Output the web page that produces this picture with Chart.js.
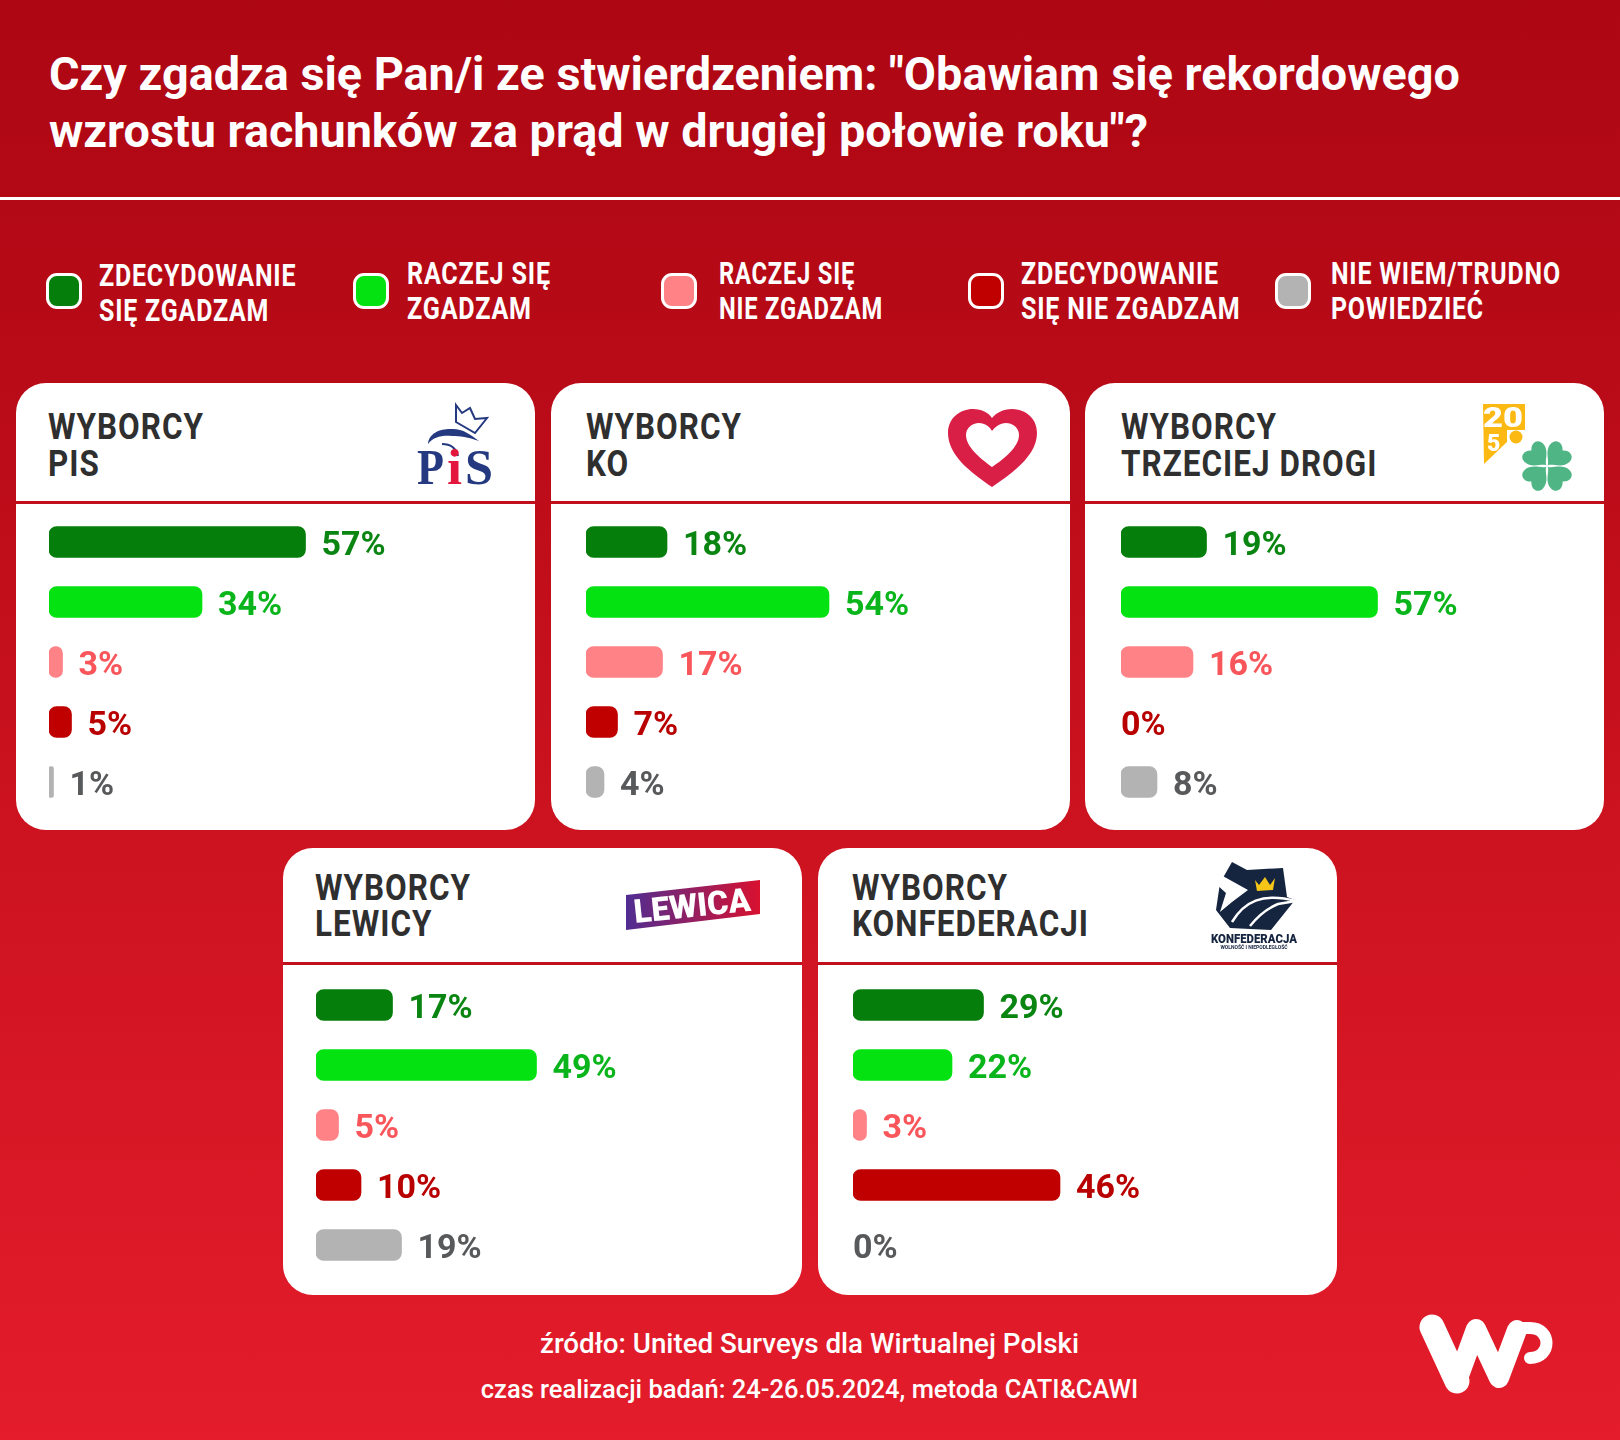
<!DOCTYPE html>
<html lang="pl">
<head>
<meta charset="utf-8">
<title>Rachunki za prąd</title>
<script src="https://cdn.jsdelivr.net/npm/chart.js@4"></script>
<style>
  html, body { margin: 0; padding: 0; }
  body { width: 1620px; height: 1440px; position: relative; overflow: hidden;
    font-family: Roboto, sans-serif; color: #fff;
    background: linear-gradient(180deg, #ad0713 0%, #b80a17 25%, #cb121f 55%, #e41c2b 100%); }
  h1 { position: absolute; left: 49px; top: 46px; margin: 0; font-size: 46.75px; line-height: 57px; font-weight: 700; white-space: nowrap; }
  .rule { position: absolute; left: 0; top: 197px; width: 1620px; height: 2.5px; background: #fff; }
  .swatch { position: absolute; width: 30px; height: 30px; border: 3px solid #fff; border-radius: 11px; }
  .legtext { position: absolute; font-size: 31px; line-height: 35px; font-weight: 700; letter-spacing: 1px; transform-origin: left top; white-space: nowrap; }
  .card { position: absolute; width: 519px; height: 447px; background: #fff; border-radius: 30px; }
  .card .sep { position: absolute; left: 0; right: 0; height: 3px; background: #c0101c; }
  .card .name { position: absolute; color: #2f2f2f; font-size: 37px; font-weight: 700;
    transform: scaleX(.85); transform-origin: left top; white-space: nowrap; letter-spacing: 1.2px; }
  canvas { position: absolute; }
  .foot { position: absolute; left: 0; width: 1619px; text-align: center; font-weight: 500; line-height: 32px; }
  svg { position: absolute; left: 0; top: 0; }
</style>
</head>
<body>
<h1>Czy zgadza się Pan/i ze stwierdzeniem: "Obawiam się rekordowego<br>wzrostu rachunków za prąd w drugiej połowie roku"?</h1>
<div class="rule"></div>
<div id="legend"></div>
<div id="cards"></div>
<div class="foot" style="top:1328px;font-size:27.75px">źródło: United Surveys dla Wirtualnej Polski</div>
<div class="foot" style="top:1373px;font-size:25.5px">czas realizacji badań: 24-26.05.2024, metoda CATI&amp;CAWI</div>

<svg width="1620" height="1440" viewBox="0 0 1620 1440">
  <!-- PiS -->
  <path d="M456 405 L462 413 L470 408 L475 419 L487 418 L475 433 L456 422 Z" fill="none" stroke="#24397f" stroke-width="2"/>
  <path d="M428 444 C429 433 440 429 450 429 C462 428 470 434 479 441 C468 437 460 436 452 436 C442 435 433 437 428 444 Z" fill="#24397f"/>
  <path d="M442 444 C450 444 456 448 458 456" fill="none" stroke="#24397f" stroke-width="2"/>
  <text x="417" y="484" font-family="Liberation Serif" font-weight="700" font-size="50" fill="#24397f" textLength="27" lengthAdjust="spacingAndGlyphs">P</text>
  <text x="447" y="484" font-family="Liberation Serif" font-weight="700" font-size="50" fill="#e3173e" textLength="15" lengthAdjust="spacingAndGlyphs">i</text>
  <text x="465" y="484" font-family="Liberation Serif" font-weight="700" font-size="50" fill="#24397f" textLength="28" lengthAdjust="spacingAndGlyphs">S</text>
  <!-- KO -->
  <path d="M992 487 C970 472 948 455 948 433 C948 418 960 409 973 409 C982 409 989 413 992 418 C996 413 1003 409 1012 409 C1025 409 1037 418 1037 433 C1037 455 1014 472 992 487 Z" fill="#da1f47"/>
  <path d="M992 467 C981 459 966 447 966 435 C966 428 972 423 979 423 C985 423 990 427 992 431 C995 427 1000 423 1006 423 C1013 423 1019 428 1019 435 C1019 447 1004 459 992 467 Z" fill="#fff"/>
  <!-- Trzecia Droga -->
  <path d="M1483 404 H1525 V430 H1507 V442 L1484 464 Z" fill="#fdb913"/>
  <text x="1483" y="427" font-family="Roboto" font-weight="900" font-size="28" fill="#fff" textLength="40" lengthAdjust="spacingAndGlyphs">20</text>
  <text x="1487" y="451" font-family="Roboto" font-weight="900" font-size="23" fill="#fff">5</text>
  <circle cx="1516" cy="437" r="6.5" fill="#fdb913"/>
  <g fill="#4fb585" transform="translate(1547 466)">
    <path id="leaf" d="M0 -1 C-2 -6 -13 -9 -13 -19 C-13 -26 -5 -28 0 -22 C5 -28 13 -26 13 -19 C13 -9 2 -6 0 -1 Z" transform="rotate(45)"/>
    <use href="#leaf" transform="rotate(90)"/>
    <use href="#leaf" transform="rotate(180)"/>
    <use href="#leaf" transform="rotate(270)"/>
  </g>
  <!-- Lewica -->
  <defs><linearGradient id="lew" x1="0" x2="1"><stop offset="0" stop-color="#4f2d92"/><stop offset="1" stop-color="#d9112f"/></linearGradient></defs>
  <path d="M626 895 L760 880 V914 L626 930 Z" fill="url(#lew)"/>
  <text x="635" y="923" transform="rotate(-6 635 923)" font-family="Roboto" font-weight="900" font-size="33" fill="#fff" textLength="117" lengthAdjust="spacingAndGlyphs">LEWICA</text>
  <!-- Konfederacja -->
  <path d="M1232 862 L1247 870 L1283 868 L1287 897 L1295 900 L1271 930 L1230 928 L1216 910 L1220 883 Z" fill="#15243f"/>
  <path d="M1212 870 L1248 890 L1232 902 L1220 912 L1226 893 L1216 884 Z" fill="#fff"/>
  <path d="M1255 880 L1259 885 L1265 877 L1270 885 L1275 878 L1273 890 L1257 891 Z" fill="#f5c518"/>
  <path d="M1232 922 C1244 902 1262 892 1296 901 L1278 904 C1268 908 1258 916 1250 926" fill="none" stroke="#fff" stroke-width="2.5"/>
  <text x="1254" y="943" text-anchor="middle" font-family="Roboto" font-weight="900" font-size="12" fill="#15243f" textLength="86" lengthAdjust="spacingAndGlyphs">KONFEDERACJA</text>
  <text x="1254" y="949" text-anchor="middle" font-family="Roboto" font-weight="700" font-size="5" fill="#15243f">WOLNOŚĆ I NIEPODLEGŁOŚĆ</text>
  <!-- WP -->
  <g fill="none" stroke="#fff" stroke-linecap="round" stroke-linejoin="round">
    <path d="M1432 1327 L1457 1381" stroke-width="25"/>
    <path d="M1457 1381 L1476 1329 L1499 1378 L1517 1330" stroke-width="20"/>
    <path d="M1517 1328 H1530 C1552 1328 1552 1358 1530 1358" stroke-width="12"/>
  </g>
</svg>

<script>
const categories = ['Zdecydowanie się zgadzam', 'Raczej się zgadzam', 'Raczej się nie zgadzam', 'Zdecydowanie się nie zgadzam', 'Nie wiem/trudno powiedzieć'];
const legendLines = [['ZDECYDOWANIE', 'SIĘ ZGADZAM'], ['RACZEJ SIĘ', 'ZGADZAM'], ['RACZEJ SIĘ', 'NIE ZGADZAM'], ['ZDECYDOWANIE', 'SIĘ NIE ZGADZAM'], ['NIE WIEM/TRUDNO', 'POWIEDZIEĆ']];
const barColors = ['#067e0b', '#05e211', '#ff8286', '#c00000', '#b3b3b3'];
const labelColors = ['#0b8512', '#0ab51b', '#f9565b', '#b90000', '#58595b'];

const pisValues = [57, 34, 3, 5, 1];
const koValues = [18, 54, 17, 7, 4];
const tdValues = [19, 57, 16, 0, 8];
const lewicaValues = [17, 49, 5, 10, 19];
const konfValues = [29, 22, 3, 46, 0];

// card layout: box position, bar start, where the name / divider / bars sit in the box
const rowOne = { y: 383, nameTop: 25, nameLine: 37, sepTop: 118, barsTop: 512 };
const rowTwo = { y: 848, nameTop: 22, nameLine: 36, sepTop: 114, barsTop: 975 };
const cards = [
  { ...rowOne, x: 16, barX: 49, nameX: 48, values: pisValues, name: ['WYBORCY', 'PIS'] },
  { ...rowOne, x: 550.5, barX: 586, nameX: 586, values: koValues, name: ['WYBORCY', 'KO'] },
  { ...rowOne, x: 1085, barX: 1121, nameX: 1121, values: tdValues, name: ['WYBORCY', 'TRZECIEJ DROGI'] },
  { ...rowTwo, x: 283, barX: 316, nameX: 315, values: lewicaValues, name: ['WYBORCY', 'LEWICY'] },
  { ...rowTwo, x: 818, barX: 853, nameX: 852, values: konfValues, name: ['WYBORCY', 'KONFEDERACJI'] }
];

const legendX = [46, 353, 661, 968, 1275];
const legendTextX = [99, 407, 719, 1021, 1331];
const legendTextY = [258, 256, 256, 256, 256];
const legendScale = [.805, .81, .766, .808, .803];
const legend = document.getElementById('legend');
legendLines.forEach((lines, i) => {
  const sw = document.createElement('div');
  sw.className = 'swatch';
  sw.style.cssText = `left:${legendX[i]}px;top:273px;background:${barColors[i]}`;
  legend.appendChild(sw);
  const t = document.createElement('div');
  t.className = 'legtext';
  t.style.left = legendTextX[i] + 'px';
  t.style.top = legendTextY[i] + 'px';
  t.style.transform = `scaleX(${legendScale[i]})`;
  t.innerHTML = lines.join('<br>');
  legend.appendChild(t);
});

// value labels next to the bars
const valueLabels = {
  id: 'valueLabels',
  afterDatasetsDraw(chart) {
    const c = chart.ctx;
    const meta = chart.getDatasetMeta(0);
    c.save();
    c.font = '700 34px Roboto';
    c.textBaseline = 'middle';
    meta.data.forEach((bar, i) => {
      const v = chart.data.datasets[0].data[i];
      c.fillStyle = labelColors[i];
      c.fillText(v + '%', bar.x + (v === 0 ? 0 : 16), bar.y + 4);
    });
    c.restore();
  }
};

const holder = document.getElementById('cards');
cards.forEach(card => {
  const el = document.createElement('div');
  el.className = 'card';
  el.style.left = card.x + 'px';
  el.style.top = card.y + 'px';
  el.innerHTML = `<div class="name" style="left:${card.nameX - card.x}px;top:${card.nameTop}px;line-height:${card.nameLine}px">${card.name.join('<br>')}</div>` +
    `<div class="sep" style="top:${card.sepTop}px"></div>`;
  holder.appendChild(el);

  const cv = document.createElement('canvas');
  cv.width = 450;
  cv.height = 300;
  cv.style.left = card.barX + 'px';
  cv.style.top = card.barsTop + 'px';
  holder.appendChild(cv);

  new Chart(cv.getContext('2d'), {
    type: 'bar',
    data: {
      labels: categories,
      datasets: [{
        data: card.values,
        // zero-width bars would otherwise leave a hairline
        backgroundColor: c => c.raw === 0 ? 'transparent' : barColors[c.dataIndex],
        barThickness: 31,
        borderRadius: 8,
        borderSkipped: false
      }]
    },
    options: {
      indexAxis: 'y',
      responsive: false,
      animation: false,
      plugins: { legend: { display: false }, tooltip: { enabled: false } },
      scales: {
        x: { display: false, min: 0, max: 100 },
        y: { display: false }
      }
    },
    plugins: [valueLabels]
  });
});
</script>
</body>
</html>
